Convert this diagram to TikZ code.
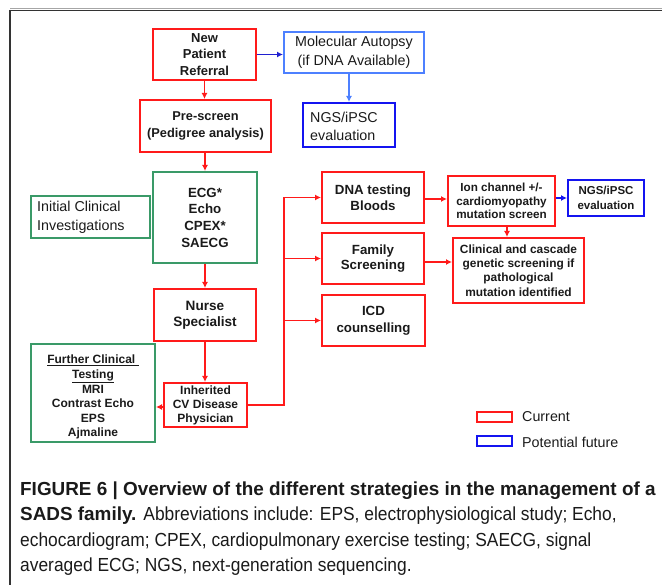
\documentclass[tikz,border=0pt]{standalone}
\usepackage{fontspec}
\setmainfont{Liberation Sans}
\newfontfamily\capreg[FakeStretch=0.92]{Liberation Sans}
\usetikzlibrary{arrows.meta,calc}
\definecolor{cred}{HTML}{FF1A1A}
\definecolor{cgreen}{HTML}{3A9A68}
\definecolor{cblue}{HTML}{1414F0}
\definecolor{clblue}{HTML}{4D80FF}
\definecolor{cdblue}{HTML}{2020D0}
\definecolor{ctext}{HTML}{1A1A1A}
\newcommand\myfs[2]{\fontsize{#1}{#2}\selectfont}
\begin{document}
\begin{tikzpicture}[x=1pt,y=-1pt,
  box/.style={draw, line width=2pt, align=center, inner sep=0pt, text=ctext},
  redbox/.style={box, draw=cred},
  greenbox/.style={box, draw=cgreen},
  bluebox/.style={box, draw=cblue},
  lbluebox/.style={box, draw=clblue},
  lefttext/.style={anchor=west, align=left, inner sep=0pt, text=ctext},
  arr/.style={line width=1.9pt, draw=cred, -{Latex[length=6pt,width=6pt]}},
  barr/.style={line width=1.9pt, draw=cdblue, -{Latex[length=6pt,width=6pt]}},
  lbarr/.style={line width=1.9pt, draw=clblue, -{Latex[length=6pt,width=6pt]}},
  capline/.style={anchor=base west, inner sep=0pt, text=ctext, font=\myfs{18.9}{25}},
]
\useasboundingbox (0,0) rectangle (662,585);
% frame
\draw[line width=1pt, black!35] (10,9) -- (662,9);
\draw[line width=1.3pt, black!80] (10,10.5) -- (662,10.5);
\draw[line width=1.3pt, black!80] (10,10) -- (10,585);

% left column
\node[redbox, minimum width=103pt, minimum height=51pt, font=\bfseries\myfs{13}{16.5}] (npr) at (204.5,54.5) {New\\Patient\\Referral};
\node[lbluebox, minimum width=140pt, minimum height=41pt, font=\myfs{14.3}{19}] (mol) at (354,52.5) {Molecular Autopsy\\(if DNA Available)};
\node[bluebox, minimum width=92pt, minimum height=44pt] (ngsa) at (349,125) {};
\node[lefttext, font=\myfs{14.3}{18}] (ngsatext) at (310,126) {NGS/iPSC\\evaluation};
\node[redbox, minimum width=131pt, minimum height=52pt, font=\bfseries\myfs{12.8}{17}] (pre) at (205.5,126) {Pre-screen\\(Pedigree analysis)};
\node[greenbox, minimum width=104pt, minimum height=91pt, font=\bfseries\myfs{13.3}{16.7}] (ecg) at (205,217.5) {ECG*\\Echo\\CPEX*\\SAECG};
\node[greenbox, minimum width=119pt, minimum height=42pt] (ici) at (90.5,217) {};
\node[lefttext, font=\myfs{14.3}{19}] (icitext) at (37,217.5) {Initial Clinical\\Investigations};
\node[redbox, minimum width=102pt, minimum height=52pt, font=\bfseries\myfs{13.6}{16.5}] (nurse) at (205,315) {Nurse\\Specialist};
\node[redbox, minimum width=83pt, minimum height=44pt, font=\bfseries\myfs{12}{14}] (inh) at (205.5,405) {Inherited\\CV Disease\\Physician};
\node[greenbox, minimum width=124pt, minimum height=98pt] (fct) at (93,393) {};
\node[align=center, inner sep=0pt, text=ctext, font=\bfseries\myfs{12}{14.4}] (fcttext) at (93,397) {\underline{Further Clinical\ }\\\underline{Testing}\\[1pt]MRI\\Contrast Echo\\EPS\\Ajmaline};

% right column
\node[redbox, minimum width=102pt, minimum height=51pt, font=\bfseries\myfs{13.3}{16}] (dna) at (373,197.5) {DNA testing\\Bloods};
\node[redbox, minimum width=102pt, minimum height=51pt, font=\bfseries\myfs{13.3}{15.5}] (fam) at (373,258.5) {Family\\Screening};
\node[redbox, minimum width=103pt, minimum height=51pt, font=\bfseries\myfs{13.3}{17}] (icd) at (373.5,320.5) {ICD\\counselling};
\node[redbox, minimum width=107pt, minimum height=50pt, font=\bfseries\myfs{11.7}{13.6}] (ion) at (501.5,201) {Ion channel +/-\\cardiomyopathy\\mutation screen};
\node[bluebox, minimum width=76pt, minimum height=36pt, font=\bfseries\myfs{11.5}{15}] (ngsb) at (606,198) {NGS/iPSC\\evaluation};
\node[redbox, minimum width=131pt, minimum height=65pt, font=\bfseries\myfs{11.9}{14.4}] (clin) at (518.5,270.5) {Clinical and cascade\\genetic screening if\\pathological\\mutation identified};

% legend
\node[draw=cred, line width=2pt, minimum width=35pt, minimum height=10pt, inner sep=0pt] (lega) at (494.5,417) {};
\node[anchor=west, inner sep=0pt, text=ctext, font=\myfs{14.3}{17}] (legat) at (522,416.5) {Current};
\node[draw=cblue, line width=2pt, minimum width=35pt, minimum height=10pt, inner sep=0pt] (legb) at (494.5,441.5) {};
\node[anchor=west, inner sep=0pt, text=ctext, font=\myfs{14.3}{17}] (legbt) at (522,442.5) {Potential future};

% connectors
\draw[barr] (npr.east) -- (mol.west |- npr.east);
\draw[lbarr] (ngsa.north |- mol.south) -- (ngsa.north);
\draw[arr] (npr.south) -- (pre.north -| npr.south);
\draw[arr] (pre.south -| ecg.north) -- (ecg.north);
\draw[arr] (ecg.south) -- (nurse.north -| ecg.south);
\draw[arr] (nurse.south) -- (inh.north -| nurse.south);
\draw[arr] ([yshift=-2pt]inh.west) -- ([yshift=-2pt]inh.west -| fct.east);
\coordinate (bus) at (284,405);
\draw[arr] (inh.east) -- (bus) |- (dna.west);
\draw[arr] (bus) |- (fam.west);
\draw[arr] (bus) |- (icd.west);
\draw[arr] ([yshift=-1.5pt]dna.east) -- ([yshift=-1.5pt]dna.east -| ion.west);
\draw[barr, draw=cblue] (ion.east |- ngsb.west) -- (ngsb.west);
\draw[arr] ([xshift=5.5pt]ion.south) -- ([xshift=5.5pt]ion.south |- clin.north);
\draw[arr] ([yshift=-3.5pt]fam.east) -- ([yshift=-3.5pt]fam.east -| clin.west);

% caption
\node[capline] (c1) at (20,496) {\bfseries FIGURE 6 | Overview of the different strategies in the management of a};
\node[capline] (c2) at (20,521) {\textbf{SADS family.} {\capreg Abbreviations include: EPS, electrophysiological study; Echo,}};
\node[capline] (c3) at (20,546) {\capreg echocardiogram; CPEX, cardiopulmonary exercise testing; SAECG, signal};
\node[capline] (c4) at (20,571) {\capreg averaged ECG; NGS, next-generation sequencing.};
\end{tikzpicture}
\end{document}
